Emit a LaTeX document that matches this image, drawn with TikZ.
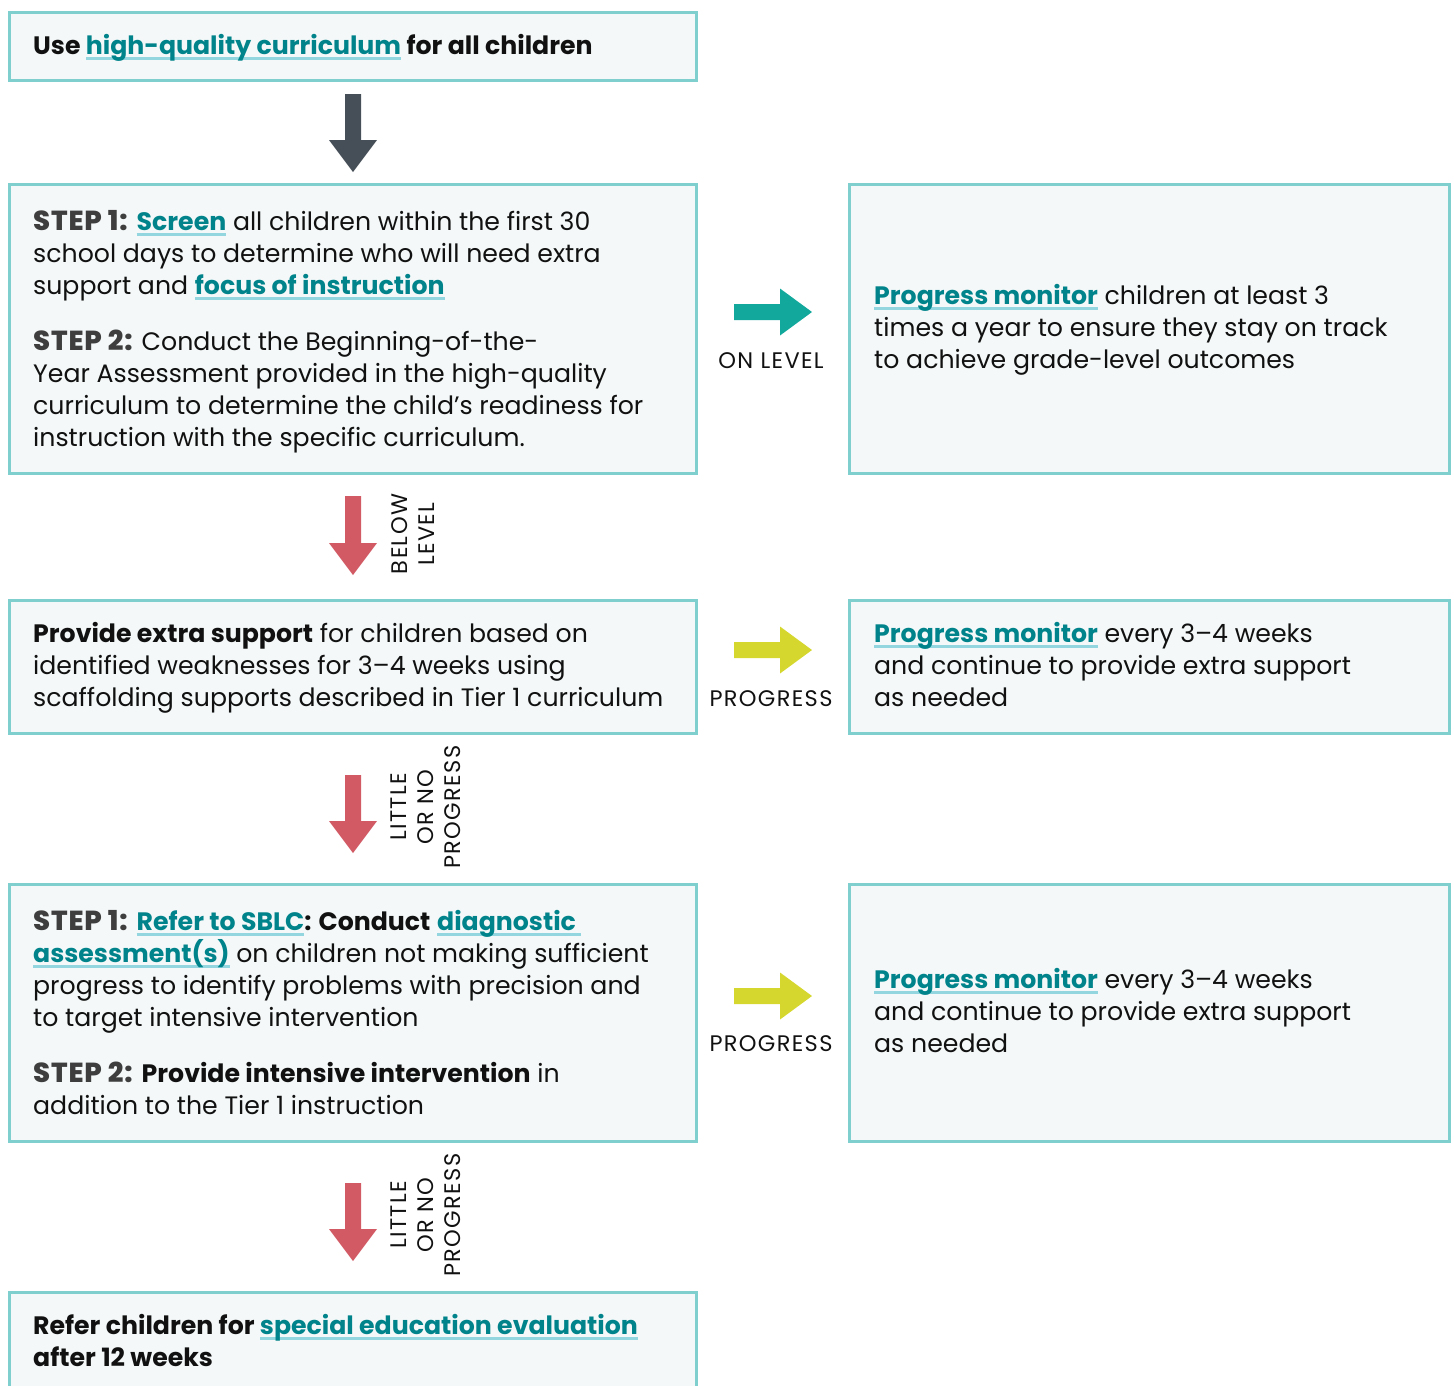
\documentclass[tikz,border=0pt]{standalone}
\usepackage{fontspec}
\setmainfont{Poppins}
\newfontfamily\lblfont{Poppins}[LetterSpace=6]
\newfontfamily\stpfont{Poppins ExtraBold}[LetterSpace=3]
\usetikzlibrary{calc}
\definecolor{boxline}{HTML}{7ECFCD}
\definecolor{boxfill}{HTML}{F4F8F8}
\definecolor{linkc}{HTML}{00838A}
\definecolor{ulc}{HTML}{94D6DF}
\definecolor{stepc}{HTML}{3E3E3E}
\definecolor{txtc}{HTML}{111111}
\definecolor{darkarr}{HTML}{464E57}
\definecolor{tealarr}{HTML}{12A89C}
\definecolor{yelarr}{HTML}{D5D72E}
\definecolor{redarr}{HTML}{D15A64}
\newsavebox\lkbox
\newcommand\lk[1]{\sbox\lkbox{\bfseries\color{linkc}#1}\rlap{\color{ulc}\rule[-6pt]{\wd\lkbox}{3pt}}\usebox\lkbox}
\newcommand\stp[1]{{\stpfont\fontsize{27.5}{30}\selectfont\color{stepc}#1}}
\newcommand\bt[1]{{\bfseries #1}}
\newcommand\dnarr[3]{\fill[#1] ($(#2)+(-8,0)$) -- ($(#2)+(8,0)$) -- ($(#3)+(8,-32)$) -- ($(#3)+(24,-32)$) -- (#3) -- ($(#3)+(-24,-32)$) -- ($(#3)+(-8,-32)$) -- cycle;}
\newcommand\rtarr[3]{\fill[#1] ($(#2)+(0,-8)$) -- ($(#2)+(0,8)$) -- ($(#3)+(-32,8)$) -- ($(#3)+(-32,23.5)$) -- (#3) -- ($(#3)+(-32,-23.5)$) -- ($(#3)+(-32,-8)$) -- cycle;}
\tikzset{
  box/.style={draw=boxline, fill=boxfill, line width=3pt, rectangle, inner sep=0pt, anchor=north west},
  txt/.style={anchor=base west, inner sep=0pt, text=txtc, font=\fontsize{25.2}{30}\selectfont},
  lbl/.style={inner sep=0pt, text=txtc, font=\lblfont\fontsize{22.5}{27}\selectfont},
}
\begin{document}
\begin{tikzpicture}[x=1pt,y=-1pt]
\useasboundingbox (0,0) rectangle (1454,1385);
% boxes
\node[box, minimum width=687, minimum height=68] (b1) at (8,11) {};
\node[box, minimum width=687, minimum height=289] (b2) at (8,183) {};
\node[box, minimum width=600, minimum height=289] (r1) at (848,183) {};
\node[box, minimum width=687, minimum height=133] (b3) at (8,599) {};
\node[box, minimum width=600, minimum height=133] (r2) at (848,599) {};
\node[box, minimum width=687, minimum height=257] (b4) at (8,883) {};
\node[box, minimum width=600, minimum height=257] (r3) at (848,883) {};
\node[box, minimum width=687, minimum height=140] (b5) at (8,1291) {};
% text box 1
\node[txt] (t1) at (33,54) {\bt{Use \lk{high-quality curriculum} for all children}};
% box 2
\node[txt] (t2a) at (33,230) {\stp{STEP 1:} \lk{Screen} all children within the first 30};
\node[txt] (t2b) at (33,262) {school days to determine who will need extra};
\node[txt] (t2c) at (33,294) {support and \lk{focus of instruction}};
\node[txt] (t2d) at (33,350) {\stp{STEP 2:} Conduct the Beginning-of-the-};
\node[txt] (t2e) at (33,382) {Year Assessment provided in the high-quality};
\node[txt] (t2f) at (33,414) {curriculum to determine the child's readiness for};
\node[txt] (t2g) at (33,446) {instruction with the specific curriculum.};
% right 1
\node[txt] (r1a) at (874,304) {\lk{Progress monitor} children at least 3};
\node[txt] (r1b) at (874,336) {times a year to ensure they stay on track};
\node[txt] (r1c) at (874,368) {to achieve grade-level outcomes};
% box 3
\node[txt] (t3a) at (33,642) {\bt{Provide extra support} for children based on};
\node[txt] (t3b) at (33,674) {identified weaknesses for 3–4 weeks using};
\node[txt] (t3c) at (33,706) {scaffolding supports described in Tier 1 curriculum};
% right 2
\node[txt] (r2a) at (874,642) {\lk{Progress monitor} every 3–4 weeks};
\node[txt] (r2b) at (874,674) {and continue to provide extra support};
\node[txt] (r2c) at (874,706) {as needed};
% box 4
\node[txt] (t4a) at (33,930) {\stp{STEP 1:} \lk{Refer to SBLC}\bt{: Conduct} \lk{diagnostic\ }};
\node[txt] (t4b) at (33,962) {\lk{assessment(s)} on children not making sufficient};
\node[txt] (t4c) at (33,994) {progress to identify problems with precision and};
\node[txt] (t4d) at (33,1026) {to target intensive intervention};
\node[txt] (t4e) at (33,1082) {\stp{STEP 2:} \bt{Provide intensive intervention} in};
\node[txt] (t4f) at (33,1114) {addition to the Tier 1 instruction};
% right 3
\node[txt] (r3a) at (874,988) {\lk{Progress monitor} every 3–4 weeks};
\node[txt] (r3b) at (874,1020) {and continue to provide extra support};
\node[txt] (r3c) at (874,1052) {as needed};
% box 5
\node[txt] (t5a) at (33,1334) {\bt{Refer children for \lk{special education evaluation}}};
\node[txt] (t5b) at (33,1366) {\bt{after 12 weeks}};
% arrows
\coordinate (d1s) at ($(b1.south)+(0,12)$);
\coordinate (d1e) at ($(b2.north)+(0,-11)$);
\dnarr{darkarr}{d1s}{d1e}
\coordinate (d2s) at ($(b2.south)+(0,21)$);
\coordinate (d2e) at ($(b3.north)+(0,-24)$);
\dnarr{redarr}{d2s}{d2e}
\coordinate (d3s) at ($(b3.south)+(0,40)$);
\coordinate (d3e) at ($(b4.north)+(0,-30)$);
\dnarr{redarr}{d3s}{d3e}
\coordinate (d4s) at ($(b4.south)+(0,40)$);
\coordinate (d4e) at ($(b5.north)+(0,-30)$);
\dnarr{redarr}{d4s}{d4e}
\coordinate (h1s) at ($(b2.east)+(36,-17)$);
\coordinate (h1e) at ($(r1.west)+(-36,-17)$);
\rtarr{tealarr}{h1s}{h1e}
\coordinate (h2s) at ($(b3.east)+(36,-17)$);
\coordinate (h2e) at ($(r2.west)+(-36,-17)$);
\rtarr{yelarr}{h2s}{h2e}
\coordinate (h3s) at ($(b4.east)+(36,-17)$);
\coordinate (h3e) at ($(r3.west)+(-36,-17)$);
\rtarr{yelarr}{h3s}{h3e}
% labels
\node[lbl] (l1) at (771,361) {ON LEVEL};
\node[lbl] (l2) at (771,699) {PROGRESS};
\node[lbl] (l3) at (771,1044) {PROGRESS};
\node[lbl, rotate=90, align=center] (l4) at (413,534) {BELOW\\LEVEL};
\node[lbl, rotate=90, align=center] (l5) at (426,807) {LITTLE\\OR NO\\PROGRESS};
\node[lbl, rotate=90, align=center] (l6) at (426,1215) {LITTLE\\OR NO\\PROGRESS};
\end{tikzpicture}
\end{document}
